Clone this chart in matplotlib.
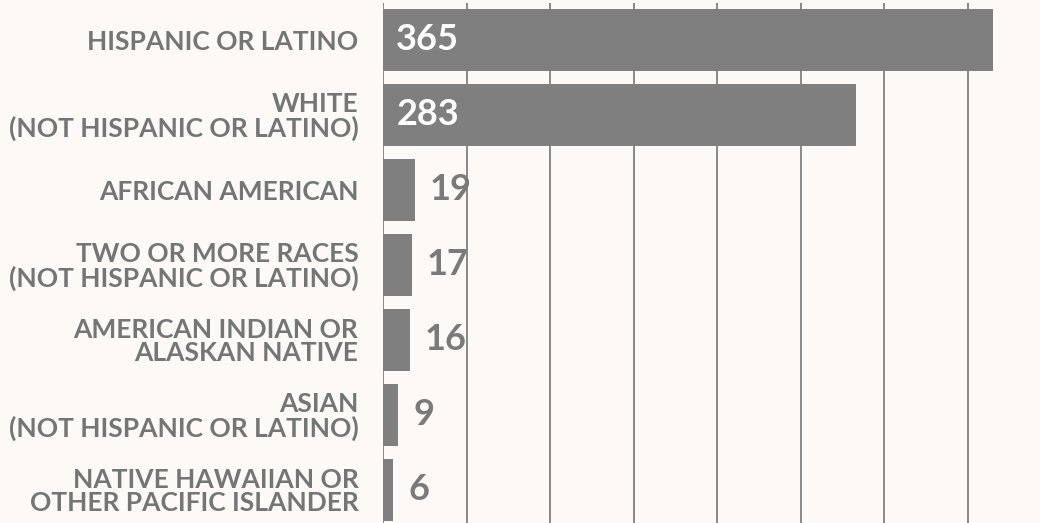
import matplotlib.pyplot as plt
from matplotlib.transforms import offset_copy

groups = ["HISPANIC OR LATINO",
          "WHITE\n(NOT HISPANIC OR LATINO)",
          "AFRICAN AMERICAN",
          "TWO OR MORE RACES\n(NOT HISPANIC OR LATINO)",
          "AMERICAN INDIAN OR\nALASKAN NATIVE",
          "ASIAN\n(NOT HISPANIC OR LATINO)",
          "NATIVE HAWAIIAN OR\nOTHER PACIFIC ISLANDER"]
counts = [365, 283, 19, 17, 16, 9, 6]
grid_ticks = [0, 50, 100, 150, 200, 250, 300, 350]

bg = "#fcf9f6"
bar_col = "#7f7f7f"
txt_col = "#737675"
plt.rcParams['font.family'] = ['Lato', 'DejaVu Sans']

fig = plt.figure(figsize=(10.4, 5.23), dpi=100, facecolor=bg)
ax = fig.add_axes([383.3 / 1040, 0, 1 - 383.3 / 1040, 1 - 2.7 / 523])
ax.set_facecolor(bg)

ypos = list(range(len(groups)))
ax.barh(ypos, counts, height=0.82, color=bar_col, zorder=2)

for g in grid_ticks:
    ax.axvline(g, color="#808080", lw=1.3, zorder=1)

ax.set_xlim(0, 393.3)
ax.set_ylim(6.442, -0.495)
ax.set_xticks([])
ax.set_yticks(ypos)
ax.set_yticklabels(groups, fontsize=19, fontweight='bold', color=txt_col,
                   linespacing=0.95)
ax.tick_params(axis='y', length=0, pad=18)
for s in ax.spines.values():
    s.set_visible(False)

# value labels: inside for the big bars, outside for the small ones
for y, v in zip(ypos, counts):
    if v > 100:
        tr = offset_copy(ax.transData, fig=fig, x=13, y=0, units='dots')
        ax.text(0, y, str(v), transform=tr, ha='left', va='center',
                fontsize=26, fontweight='bold', color='white', zorder=3)
    else:
        tr = offset_copy(ax.transData, fig=fig, x=15, y=0, units='dots')
        ax.text(v, y, str(v), transform=tr, ha='left', va='center',
                fontsize=26, fontweight='bold', color="#7a7a7a", zorder=3)

fig.savefig("out.png", dpi=100, facecolor=bg)
